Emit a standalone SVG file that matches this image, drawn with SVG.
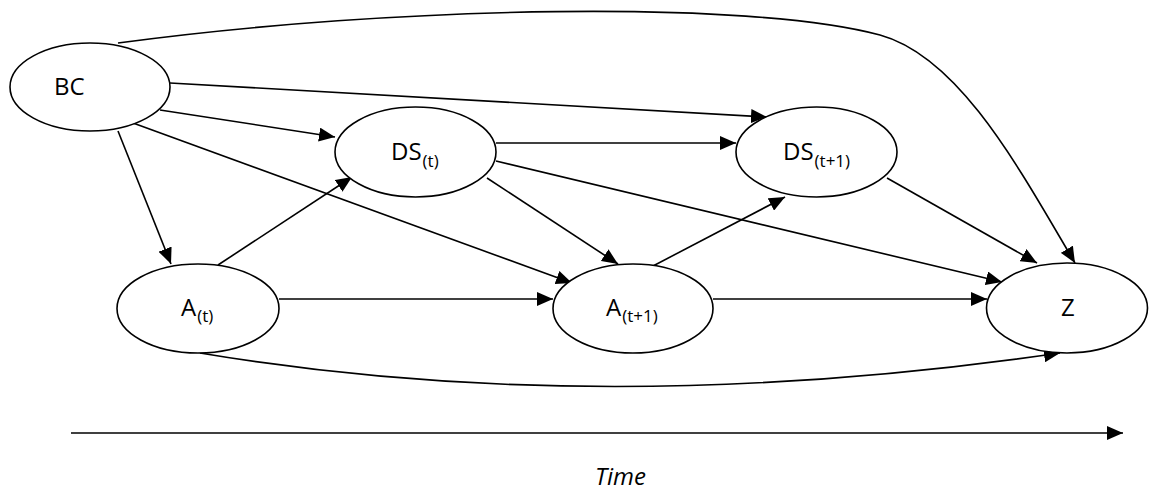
<svg xmlns="http://www.w3.org/2000/svg" width="1151" height="490" viewBox="0 0 1151 490">
<style>
.node ellipse{fill:#fff;stroke:#000;stroke-width:1.6}
.lbl{font-family:"Open Sans","Liberation Sans",sans-serif;font-size:24px;fill:#000}
.sub{font-size:17px}
.edge{fill:none;stroke:#000;stroke-width:1.6;marker-end:url(#ah)}
</style>
<defs>
<marker id="ah" viewBox="0 0 16 14" refX="16" refY="7" markerWidth="16" markerHeight="14" markerUnits="userSpaceOnUse" orient="auto">
<path d="M0,0 L16,7 L0,14 z" fill="#000"/>
</marker>
</defs>
<rect width="1151" height="490" fill="#fff"/>
<g id="connectors">
<path class="edge" d="M118,43 C400,5 750,0 880,35 C960,57 1020,170 1075,263"/>
<path class="edge" d="M170,83 L767,117"/>
<path class="edge" d="M160,110 L335,137"/>
<path class="edge" d="M133,123 L572,283"/>
<path class="edge" d="M118,131 L171,264"/>
<path class="edge" d="M218,265 L352,177"/>
<path class="edge" d="M279,299 L553,299"/>
<path class="edge" d="M200,353 Q600,420 1060,353"/>
<path class="edge" d="M487,178 L618,264"/>
<path class="edge" d="M496,161 L1002,282"/>
<path class="edge" d="M496,143 L736,143"/>
<path class="edge" d="M653,266 L785,197"/>
<path class="edge" d="M713,299 L987,299"/>
<path class="edge" d="M887,178 L1037,263"/>
<path class="edge" d="M71,433 L1123,433"/>
</g>
<g id="BC" class="node"><ellipse cx="90" cy="87" rx="80" ry="44"/><text class="lbl" x="54" y="95">BC</text></g>
<g id="DSt" class="node"><ellipse cx="415.5" cy="152" rx="80.5" ry="45"/><text class="lbl" x="391" y="160">DS<tspan class="sub" dx="1" dy="7">(t)</tspan></text></g>
<g id="DSt1" class="node"><ellipse cx="816.5" cy="152" rx="80.5" ry="45"/><text class="lbl" x="783" y="160">DS<tspan class="sub" dx="1" dy="7">(t+1)</tspan></text></g>
<g id="At" class="node"><ellipse cx="198" cy="308.5" rx="81" ry="44.5"/><text class="lbl" x="181" y="316">A<tspan class="sub" dx="1" dy="6">(t)</tspan></text></g>
<g id="At1" class="node"><ellipse cx="633" cy="308.5" rx="80" ry="44.5"/><text class="lbl" x="606" y="316">A<tspan class="sub" dx="1" dy="6">(t+1)</tspan></text></g>
<g id="Z" class="node"><ellipse cx="1067" cy="308" rx="80.5" ry="45"/><text class="lbl" x="1061" y="316">Z</text></g>
<g id="time"><text class="lbl" x="595" y="485" style="font-size:24px;font-style:italic">Time</text></g>
</svg>
